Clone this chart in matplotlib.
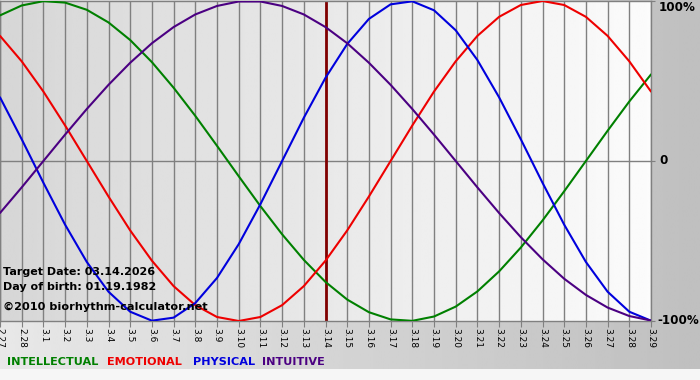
import numpy as np
import matplotlib
matplotlib.use("Agg")
import matplotlib.pyplot as plt
from matplotlib.patches import Rectangle

# ---- data ----
dates = ["2.27", "2.28", "3.1", "3.2", "3.3", "3.4", "3.5", "3.6", "3.7", "3.8",
         "3.9", "3.10", "3.11", "3.12", "3.13", "3.14", "3.15", "3.16", "3.17",
         "3.18", "3.19", "3.20", "3.21", "3.22", "3.23", "3.24", "3.25", "3.26",
         "3.27", "3.28", "3.29"]
target_date = "3.14"

intellectual = [0.910, 0.972, 0.999, 0.990, 0.945, 0.866, 0.756, 0.618, 0.458, 0.282,
                0.095, -0.095, -0.282, -0.458, -0.618, -0.756, -0.866, -0.945, -0.990,
                -0.999, -0.972, -0.910, -0.815, -0.690, -0.541, -0.372, -0.189, 0.000,
                0.189, 0.372, 0.541]
emotional = [0.782, 0.623, 0.434, 0.222, 0.000, -0.222, -0.434, -0.623, -0.782, -0.901,
             -0.975, -1.000, -0.975, -0.901, -0.782, -0.623, -0.434, -0.222, 0.000,
             0.222, 0.434, 0.623, 0.782, 0.901, 0.975, 1.000, 0.975, 0.901, 0.782,
             0.623, 0.434]
physical = [0.398, 0.136, -0.136, -0.398, -0.631, -0.817, -0.942, -0.998, -0.979, -0.888,
            -0.731, -0.520, -0.270, 0.000, 0.270, 0.520, 0.731, 0.888, 0.979, 0.998,
            0.942, 0.817, 0.631, 0.398, 0.136, -0.136, -0.398, -0.631, -0.817, -0.942,
            -0.998]
intuitive = [-0.325, -0.165, 0.000, 0.165, 0.325, 0.476, 0.614, 0.736, 0.837, 0.916,
             0.969, 0.997, 0.997, 0.969, 0.916, 0.837, 0.736, 0.614, 0.476, 0.325,
             0.165, 0.000, -0.165, -0.325, -0.476, -0.614, -0.736, -0.837, -0.916,
             -0.969, -0.997]

series_names = ["INTELLECTUAL", "EMOTIONAL", "PHYSICAL", "INTUITIVE"]
series_colors = ["#008000", "#ee0000", "#0000dd", "#4b0082"]
y_ticks = [-1, 0, 1]
y_labels = ["-100%", "0", "100%"]

W, H = 700, 380
fig = plt.figure(figsize=(W / 100, H / 100), dpi=100)

# outer background gradient
bg = fig.add_axes([0, 0, 1, 1], zorder=-10)
bg.axis("off")
bg.imshow(np.linspace(0.91, 0.75, 256)[None, :], cmap="gray", vmin=0, vmax=1,
          aspect="auto", extent=[0, 1, 0, 1], interpolation="bilinear")
bg.add_patch(Rectangle((0, 0), 1, 11 / H, color="#f6f6f6", lw=0))
bg.set_xlim(0, 1)
bg.set_ylim(0, 1)

ax = fig.add_axes([0, 59 / H, 651 / W, 320 / H])
x = np.arange(len(dates))
ax.imshow(np.linspace(0.84, 0.985, 256)[None, :], cmap="gray", vmin=0, vmax=1,
          aspect="auto", extent=[x[0], x[-1], -1, 1], interpolation="bilinear", zorder=0)
ax.set_xlim(x[0], x[-1])
ax.set_ylim(-1, 1)

ax.set_axisbelow("line")
ax.set_xticks(x)
ax.set_xticklabels(dates, rotation=270, fontsize=6.5, va="top", ha="center")
ax.tick_params(axis="x", length=4, color="#808080", pad=1)
ax.grid(axis="x", color="#808080", lw=1)
ax.axhline(0, color="#808080", lw=1, zorder=1.5)

ax.yaxis.tick_right()
ax.set_yticks(y_ticks)
ax.set_yticklabels([])
ax.tick_params(axis="y", length=3, color="#808080")
for s in ax.spines.values():
    s.set_color("#808080")
    s.set_linewidth(1)

ti = dates.index(target_date)
ax.axvline(x[ti], color="#800000", lw=2, zorder=2)

for vals, col in zip([intellectual, emotional, physical, intuitive], series_colors):
    ax.plot(x, vals, color=col, lw=1.5, zorder=3, solid_capstyle="round")

# right y labels
tr = ax.get_yaxis_transform()
ax.text(1 + 8 / 651, 1, y_labels[2], transform=tr, ha="left", va="top",
        fontsize=8.6, fontweight="bold", clip_on=False)
ax.text(1 + 8 / 651, 0, y_labels[1], transform=tr, ha="left", va="center",
        fontsize=8.6, fontweight="bold", clip_on=False)
ax.text(1 + 6 / 651, -1, y_labels[0], transform=tr, ha="left", va="center",
        fontsize=8.6, fontweight="bold", clip_on=False)

def ftext(px, py, s, **kw):
    fig.text(px / W, 1 - py / H, s, **kw)

ftext(3, 272, "Target Date: 03.14.2026", fontsize=8, fontweight="bold", va="center")
ftext(3, 287, "Day of birth: 01.19.1982", fontsize=8, fontweight="bold", va="center")
ftext(3, 307, "\u00a92010 biorhythm-calculator.net", fontsize=8.1, fontweight="bold", va="center")

legend_x = [7, 107, 193, 262]
for lx, name, col in zip(legend_x, series_names, series_colors):
    ftext(lx, 362, name, fontsize=8.1, fontweight="bold", color=col, va="center")

fig.savefig("out.png", dpi=100)
